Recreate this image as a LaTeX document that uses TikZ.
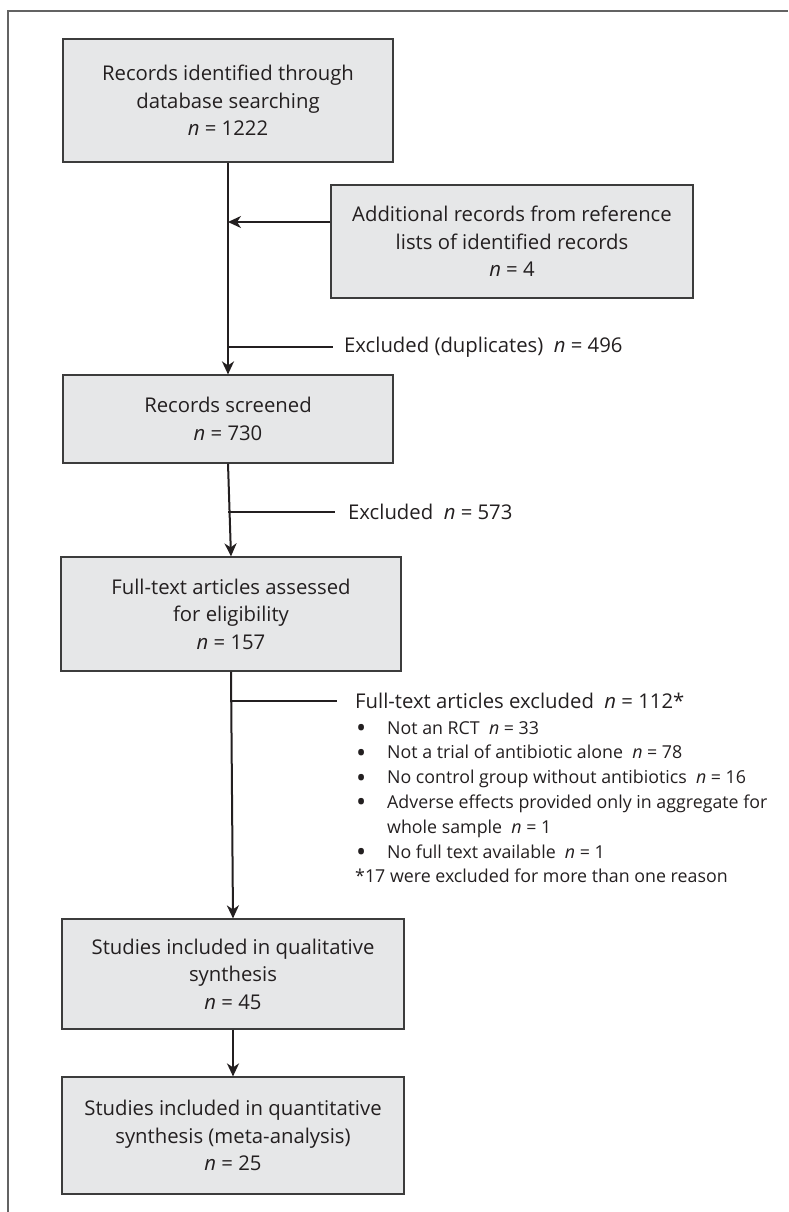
\documentclass[tikz,border=0pt]{standalone}
\usepackage{fontspec}
\setmainfont{Open Sans}
\usetikzlibrary{arrows.meta,positioning}

\definecolor{boxfill}{HTML}{E6E7E8}
\definecolor{ink}{HTML}{231F20}
\definecolor{edge}{HTML}{3C3C3C}

\newcommand{\dotitem}{\hspace*{1pt}\makebox[31pt][l]{\raisebox{-3.5pt}{\fontsize{27}{27}\selectfont\textbullet}}}

\tikzset{
  box/.style={draw=edge, line width=1.2pt, fill=boxfill, align=center,
    inner sep=0pt, text=ink, font=\fontsize{20.3}{27.5}\selectfont},
  flow/.style={draw=ink, line width=2pt, -{Stealth[length=13pt,width=12pt,inset=4pt]}},
  branch/.style={draw=ink, line width=1.8pt},
  note/.style={anchor=west, inner ysep=0pt, text=ink, font=\fontsize{20.3}{25}\selectfont},
}

\begin{document}
\begin{tikzpicture}[x=1pt,y=-1pt]
    \useasboundingbox (0,0) rectangle (788,1212);
    % frame of the figure
    \draw[edge!80, line width=1.3pt] (8,1212) -- (8,11) -- (788,11);

    % main column
    \node[box, minimum width=330pt, minimum height=123pt] (ident) at (228,100.5)
        {Records identified through\\database searching\\\textit{n} = 1222};
    \node[box, minimum width=362pt, minimum height=113pt] (addl) at (512,241.5)
        {Additional records from reference\\lists of identified records\\\textit{n} = 4};
    \node[box, minimum width=330pt, minimum height=88pt] (screen) at (228,419)
        {Records screened\\\textit{n} = 730};
    \node[box, minimum width=340pt, minimum height=114pt] (full) at (231,614)
        {Full-text articles assessed\\for eligibility\\\textit{n} = 157};
    \node[box, minimum width=342pt, minimum height=110pt] (qual) at (233,974)
        {Studies included in qualitative\\synthesis\\\textit{n} = 45};
    \node[box, minimum width=342pt, minimum height=117pt] (quant) at (233,1135.5)
        {Studies included in quantitative\\synthesis (meta-analysis)\\\textit{n} = 25};

    % exclusions
    \node[note, inner xsep=11pt] (dup) at (333,347) {Excluded (duplicates)\ \ \textit{n} = 496};
    \node[note, inner xsep=13pt] (ex573) at (335,512) {Excluded\ \ \textit{n} = 573};
    \node[note, inner xsep=18pt] (exfull) at (337,701) {Full-text articles excluded\ \ \textit{n} = 112*};
    \node[anchor=north west, inner sep=0pt, align=left, text=ink,
          font=\fontsize{17.8}{24.8}\selectfont] (reasons) at (355,721)
        {\dotitem Not an RCT\ \ \textit{n} = 33\\
         \dotitem Not a trial of antibiotic alone\ \ \textit{n} = 78\\
         \dotitem No control group without antibiotics\ \ \textit{n} = 16\\
         \dotitem Adverse effects provided only in aggregate for\\
         \hspace*{32pt}whole sample\ \ \textit{n} = 1\\
         \dotitem No full text available\ \ \textit{n} = 1\\
         *17 were excluded for more than one reason};

    % connectors
    \coordinate (merge) at (228,222);
    \draw[flow] (ident) -- (screen);
    \draw[flow] (merge -| addl.west) -- (merge);
    \draw[branch, line width=1.1pt] (dup.west -| ident.south) -- (dup.west);
    \draw[flow] (screen.south) -- (full.north);
    \draw[branch] (ex573.west -| screen.south) -- (ex573.west);
    \draw[flow] (full.south) -- (qual.north);
    \draw[branch] (exfull.west -| full.south) -- (exfull.west);
    \draw[flow] (qual) -- (quant);
\end{tikzpicture}
\end{document}
